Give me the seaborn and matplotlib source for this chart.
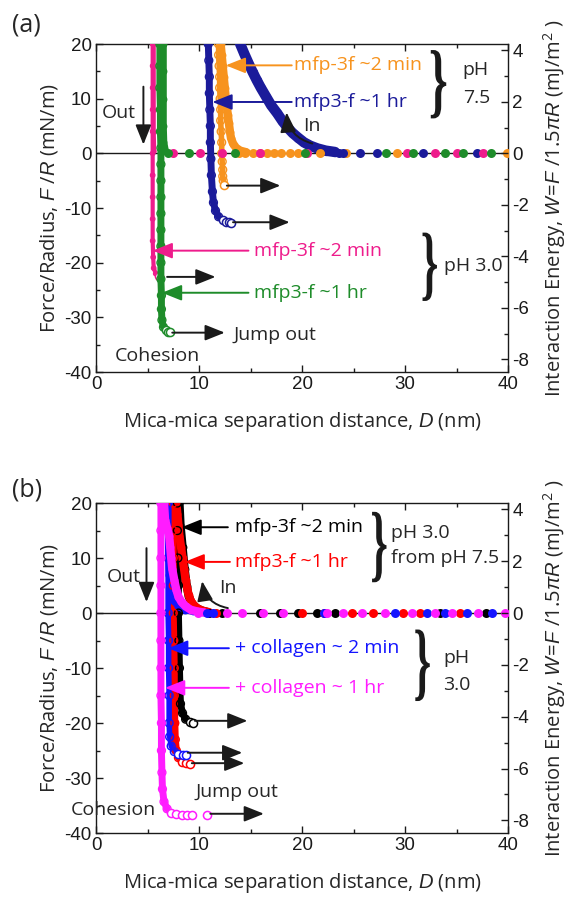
import matplotlib
matplotlib.use("Agg")
import matplotlib.pyplot as plt
import seaborn as sns
import pandas as pd
import numpy as np
from matplotlib.ticker import MultipleLocator
from matplotlib.textpath import TextPath
from matplotlib.patches import PathPatch
from matplotlib.transforms import Affine2D
from matplotlib.font_manager import FontProperties

# ---------------- data: panel (a) ----------------
orange_in_D = [12.1, 12.2, 12.3, 12.4, 12.5, 12.6, 12.7, 12.8, 12.9, 13.0, 13.1, 13.3, 13.6, 14.0, 14.6]
orange_in_F = [20, 18, 16, 14, 12, 10, 8.5, 7, 5.5, 4, 2.8, 1.8, 1.0, 0.5, 0.2]
orange_out_D = [11.9, 11.9, 11.95, 12.0, 12.0, 12.05, 12.1, 12.1, 12.15, 12.2, 12.2, 12.25, 12.3, 12.3, 12.35]
orange_out_F = [20, 18, 16, 14, 12, 10, 8, 6, 4, 2, 0, -1.5, -3, -4.2, -5.0]
orange_jump_D = [12.45]
orange_jump_F = [-5.8]

navy_in_D = [14.0, 14.4, 14.8, 15.2, 15.6, 16.0, 16.5, 17.0, 17.6, 18.1, 18.6, 19.1, 19.6, 20.2, 20.8, 21.5, 22.3, 23.2]
navy_in_F = [20, 18.2, 16.5, 14.9, 13.4, 12.0, 10.4, 8.8, 7.3, 5.9, 4.7, 3.7, 2.9, 2.0, 1.4, 0.9, 0.5, 0.25]
navy_out_D = [10.9, 10.95, 11.0, 11.0, 11.05, 11.1, 11.1, 11.15, 11.2, 11.3, 11.4, 11.6, 11.9]
navy_out_F = [20, 17, 14, 11, 8, 5, 2, -1, -4, -7, -9, -10.5, -11.6]
navy_jump_D = [12.3, 12.6, 12.9, 13.1]
navy_jump_F = [-12.2, -12.5, -12.6, -12.7]

pink_in_D = [5.6, 5.6, 5.6, 5.6, 5.6, 5.65]
pink_in_F = [20, 16, 12, 8, 4, 0.5]
pink_out_D = [5.5, 5.5, 5.5, 5.5, 5.5, 5.5, 5.5, 5.5, 5.5, 5.5, 5.55, 5.6, 5.8]
pink_out_F = [20, 16, 12, 8, 4, 0, -4, -8, -12, -16, -19, -21, -22]
pink_jump_D = [6.1]
pink_jump_F = [-22.4]

green_in_D = [6.5, 6.5, 6.5, 6.5, 6.55, 6.7]
green_in_F = [20, 15, 10, 5, 2, 0.5]
green_out_D = [6.2, 6.2, 6.2, 6.25, 6.25, 6.3, 6.3, 6.3, 6.3, 6.3, 6.3, 6.3, 6.3, 6.3, 6.35, 6.35, 6.4, 6.55]
green_out_F = [20, 16, 12, 8, 4, 1, -2, -5, -8, -11, -14, -17, -20, -23, -26, -28.5, -30.5, -31.8]
green_jump_D = [6.8, 7.0, 7.2]
green_jump_F = [-32.4, -32.6, -32.7]

orange_flat_D = [13.9, 14.5, 15.2, 15.9, 16.6, 17.3, 18.0, 18.8, 19.6, 21.7, 24.3, 29.2, 39.9]
navy_flat_D = [23.6, 24.0, 25.6, 27.3, 31.7, 37.0]
pink_flat_D = [7.5, 10.1, 12.2, 15.9, 20.5, 30.2, 32.9, 35.0, 37.6]
green_flat_D = [7.0, 9.0, 13.5, 20.3, 28.2, 30.8, 33.9, 35.6, 38.3]

# ---------------- data: panel (b) ----------------
black_in_D = [8.1, 8.2, 8.4, 8.6, 8.8, 9.0, 9.3, 9.7, 10.2, 10.8]
black_in_F = [20, 16, 12, 8, 5, 3, 1.8, 1.0, 0.5, 0.2]
black_out_D = [7.9, 7.9, 7.95, 8.0, 8.0, 8.05, 8.1, 8.15, 8.2, 8.4, 8.7]
black_out_F = [20, 15, 10, 5, 0, -5, -10, -14, -16.5, -18.2, -19.3]
black_jump_D = [9.1, 9.4]
black_jump_F = [-19.8, -20.0]

red_in_D = [7.8, 7.9, 8.0, 8.1, 8.25, 8.4, 8.55, 8.7, 8.85, 9.0, 9.2, 9.5, 9.9, 10.4, 11.0]
red_in_F = [20, 18, 16, 14, 12, 10, 8, 6, 4.5, 3.2, 2.2, 1.4, 0.8, 0.4, 0.15]
red_out_D = [7.5, 7.5, 7.5, 7.5, 7.5, 7.55, 7.6, 7.6, 7.65, 7.7, 7.8, 8.0]
red_out_F = [20, 15, 10, 5, 0, -5, -10, -15, -20, -23, -25, -26.3]
red_jump_D = [8.3, 8.7, 9.1]
red_jump_F = [-27.0, -27.3, -27.4]

blue_in_D = [7.0, 7.0, 7.05, 7.1, 7.2, 7.35, 7.6, 8.0, 8.6, 9.4, 10.4]
blue_in_F = [20, 15, 10, 7, 5, 3.5, 2.2, 1.2, 0.6, 0.3, 0.1]
blue_out_D = [7.0, 7.0, 7.0, 7.05, 7.05, 7.1, 7.1, 7.15, 7.3, 7.6]
blue_out_F = [20, 10, 0, -5, -10, -15, -20, -22.5, -24.2, -25.2]
blue_jump_D = [8.0, 8.4, 8.7]
blue_jump_F = [-25.6, -25.8, -25.8]

magenta_in_D = [6.6, 6.7, 6.9, 7.1, 7.2, 7.3, 7.4, 7.6, 7.8, 8.0, 8.3, 8.7, 9.2, 9.8, 10.5]
magenta_in_F = [20, 17, 15.5, 14, 12, 10, 8, 6, 4.2, 3, 2, 1.2, 0.6, 0.3, 0.1]
magenta_out_D = [6.3, 6.3, 6.3, 6.3, 6.3, 6.3, 6.3, 6.3, 6.35, 6.35, 6.4, 6.45, 6.6, 6.9]
magenta_out_F = [20, 15, 10, 5, 0, -5, -10, -15, -20, -25, -29, -32, -34.3, -35.6]
magenta_jump_D = [7.3, 7.8, 8.3, 8.8, 9.3, 10.8]
magenta_jump_F = [-36.3, -36.6, -36.7, -36.7, -36.7, -36.7]

black_flat_D = [11.0, 12.2, 15.9, 17.9, 19.6, 21.5, 23.2, 33.4, 37.9]
red_flat_D = [11.6, 20.0, 22.1, 24.9, 26.9, 29.8, 31.5, 35.3]
blue_flat_D = [10.8, 11.4, 22.1, 29.0, 32.1, 33.9, 36.0, 38.4]
magenta_flat_D = [9.9, 12.7, 14.2, 16.2, 18.2, 22.4, 24.0, 25.8, 28.1, 30.7, 32.9, 34.6, 37.1, 39.7]

x_ticks = [0, 10, 20, 30, 40]
y_ticks = [-40, -30, -20, -10, 0, 10, 20]
w_ticks = [-8, -6, -4, -2, 0, 2, 4]

ORANGE = "#F7931E"
NAVY = "#1B1B9A"
PINK = "#EE1C8C"
GREEN = "#1E8C2A"
BLACK = "#000000"
RED = "#FF0000"
BLUE = "#1414FF"
MAGENTA = "#FF1CFF"

# ---------------- style ----------------
sns.set_theme(style="white")
plt.rcParams["font.family"] = ["Open Sans", "DejaVu Sans"]
plt.rcParams["axes.unicode_minus"] = False
plt.rcParams["mathtext.fontset"] = "custom"
plt.rcParams["mathtext.rm"] = "Open Sans"
plt.rcParams["mathtext.it"] = "Liberation Sans:italic"

fig = plt.figure(figsize=(5.76, 9.10), dpi=100)
axA = fig.add_axes([0.1667, 0.5912, 0.7153, 0.3604])
axB = fig.add_axes([0.1667, 0.0846, 0.7153, 0.3626])

TXT = 14
LAB = 14.5


def curve(ax, D, F, color, lw=5.0, ms=32, filled=True, z=3):
    df = pd.DataFrame({"D": D, "F": F})
    sns.lineplot(data=df, x="D", y="F", sort=False, estimator=None, color=color,
                 lw=lw, ax=ax, zorder=z, legend=False)
    if filled:
        sns.scatterplot(data=df, x="D", y="F", color=color, s=ms, linewidth=0,
                        ax=ax, zorder=z, legend=False)
    else:
        sns.scatterplot(data=df, x="D", y="F", facecolor="none", edgecolor=color,
                        s=ms, linewidth=1.0, ax=ax, zorder=z + 0.1, legend=False)


def jump(ax, D, F, color, z=3):
    df = pd.DataFrame({"D": D, "F": F})
    sns.scatterplot(data=df, x="D", y="F", facecolor="white", edgecolor=color,
                    s=34, linewidth=1.1, ax=ax, zorder=z + 0.2, legend=False)


def flat(ax, D, color):
    df = pd.DataFrame({"D": D, "F": [0.0] * len(D)})
    sns.scatterplot(data=df, x="D", y="F", color=color, s=42, linewidth=0,
                    ax=ax, zorder=5, legend=False)


def arrow(ax, x0, y0, x1, y1, color="k", rad=0.0, lw=1.4):
    ax.annotate("", xy=(x1, y1), xytext=(x0, y0),
                arrowprops=dict(arrowstyle="-|>,head_length=0.8,head_width=0.32",
                                color=color, lw=lw, mutation_scale=15,
                                shrinkA=0, shrinkB=0,
                                connectionstyle=f"arc3,rad={rad}"),
                zorder=8)


BRACE_PATH = TextPath((0, 0), "}", size=1,
                      prop=FontProperties(family="Liberation Serif", weight="bold"))


def brace(ax, x0, x1, ytop, ybot):
    ext = BRACE_PATH.get_extents()
    tr = (Affine2D().translate(-ext.x0, -ext.y0)
          .scale((x1 - x0) / ext.width, (ytop - ybot) / ext.height)
          .translate(x0, ybot))
    p = tr.transform_path(BRACE_PATH)
    ax.add_patch(PathPatch(p, facecolor="k", edgecolor="none", zorder=8,
                           transform=ax.transData))


def setup(ax):
    ax.set_xlim(0, 40)
    ax.set_ylim(-40, 20)
    ax.set_xticks(x_ticks)
    ax.set_yticks(y_ticks)
    ax.xaxis.set_minor_locator(MultipleLocator(5))
    ax.yaxis.set_minor_locator(MultipleLocator(5))
    ax.tick_params(which="both", direction="in", top=True, right=False,
                   bottom=True, left=True, labelsize=13.5, colors="k",
                   labelfontfamily="Liberation Sans", pad=3)
    ax.tick_params(which="major", length=5, width=1)
    ax.tick_params(which="minor", length=3, width=1)
    for s in ax.spines.values():
        s.set_color("k")
        s.set_linewidth(1.0)
    ax.axhline(0, color="k", lw=1.0, zorder=2)
    ax.set_xlabel(r"Mica-mica separation distance, $D$ (nm)", fontsize=LAB, labelpad=12)
    ax.set_ylabel(r"Force/Radius, $F$ /$R$ (mN/m)", fontsize=LAB, labelpad=3)
    ax2 = ax.twinx()
    ax2.set_ylim(-40 / (1.5 * np.pi), 20 / (1.5 * np.pi))
    ax2.set_yticks(w_ticks)
    ax2.yaxis.set_minor_locator(MultipleLocator(1))
    ax2.tick_params(which="both", direction="in", right=True, labelsize=13.5,
                    labelfontfamily="Liberation Sans", colors="k", pad=3)
    ax2.tick_params(which="major", length=5, width=1)
    ax2.tick_params(which="minor", length=3, width=1)
    ax2.grid(False)
    for s in ax2.spines.values():
        s.set_visible(False)
    ax2.set_ylabel(r"Interaction Energy, $W\!=\!F\ /1.5\pi R$ (mJ/m$^2$ )",
                   fontsize=LAB, labelpad=9)
    ax.grid(False)


# ---------------- panel (a) ----------------
setup(axA)
curve(axA, orange_in_D, orange_in_F, ORANGE, lw=6)
curve(axA, orange_out_D, orange_out_F, ORANGE, lw=4, filled=False)
jump(axA, orange_jump_D, orange_jump_F, ORANGE)
curve(axA, navy_in_D, navy_in_F, NAVY, lw=7.5, ms=45)
curve(axA, navy_out_D, navy_out_F, NAVY, lw=5, filled=False)
jump(axA, navy_jump_D, navy_jump_F, NAVY)
curve(axA, pink_in_D, pink_in_F, PINK, lw=3, ms=10)
curve(axA, pink_out_D, pink_out_F, PINK, lw=3, ms=10, filled=False)
jump(axA, pink_jump_D, pink_jump_F, PINK)
curve(axA, green_in_D, green_in_F, GREEN, lw=5.5, z=4)
curve(axA, green_out_D, green_out_F, GREEN, lw=5, filled=False, z=4)
jump(axA, green_jump_D, green_jump_F, GREEN, z=4)
flat(axA, orange_flat_D, ORANGE)
flat(axA, navy_flat_D, NAVY)
flat(axA, pink_flat_D, PINK)
flat(axA, green_flat_D, GREEN)

axA.text(0.6, 7.3, "Out", fontsize=TXT, va="center", ha="left")
arrow(axA, 4.6, 12.2, 4.6, 1.6)
axA.text(20.1, 5.0, "In", fontsize=TXT, va="center", ha="left")
arrow(axA, 21.0, 1.8, 18.5, 7.5, rad=-0.35)
axA.text(19.2, 16.1, "mfp-3f ~2 min", color=ORANGE, fontsize=TXT, va="center")
arrow(axA, 19.0, 16.1, 12.6, 16.1, color=ORANGE)
axA.text(19.2, 9.4, "mfp3-f ~1 hr", color=NAVY, fontsize=TXT, va="center")
arrow(axA, 19.0, 9.4, 11.3, 9.4, color=NAVY)
brace(axA, 32.5, 34.0, 18.9, 6.4)
axA.text(35.6, 15.2, "pH", fontsize=TXT, va="center")
axA.text(35.6, 10.1, "7.5", fontsize=TXT, va="center")
arrow(axA, 12.7, -5.9, 17.9, -5.9)
arrow(axA, 13.3, -12.6, 18.8, -12.6)
axA.text(15.3, -17.8, "mfp-3f ~2 min", color=PINK, fontsize=TXT, va="center")
arrow(axA, 14.8, -17.8, 5.5, -17.8, color=PINK)
arrow(axA, 6.9, -22.6, 11.6, -22.6)
axA.text(15.3, -25.5, "mfp3-f ~1 hr", color=GREEN, fontsize=TXT, va="center")
arrow(axA, 14.8, -25.5, 6.4, -25.5, color=GREEN)
brace(axA, 31.7, 33.1, -14.5, -27.0)
axA.text(33.8, -20.6, "pH 3.0", fontsize=TXT, va="center")
arrow(axA, 7.4, -32.8, 12.5, -32.8)
axA.text(13.3, -33.3, "Jump out", fontsize=TXT, va="center")
axA.text(1.8, -37.0, "Cohesion", fontsize=TXT, va="center")

# ---------------- panel (b) ----------------
setup(axB)
curve(axB, black_in_D, black_in_F, BLACK, lw=6)
curve(axB, black_out_D, black_out_F, BLACK, lw=5, filled=False)
jump(axB, black_jump_D, black_jump_F, BLACK)
curve(axB, red_in_D, red_in_F, RED, lw=6)
curve(axB, red_out_D, red_out_F, RED, lw=5, filled=False)
jump(axB, red_jump_D, red_jump_F, RED)
curve(axB, blue_in_D, blue_in_F, BLUE, lw=5)
curve(axB, blue_out_D, blue_out_F, BLUE, lw=4, filled=False)
jump(axB, blue_jump_D, blue_jump_F, BLUE)
curve(axB, magenta_in_D, magenta_in_F, MAGENTA, lw=6, z=4)
curve(axB, magenta_out_D, magenta_out_F, MAGENTA, lw=5, filled=False, z=4)
jump(axB, magenta_jump_D, magenta_jump_F, MAGENTA, z=4)
flat(axB, black_flat_D, BLACK)
flat(axB, red_flat_D, RED)
flat(axB, blue_flat_D, BLUE)
flat(axB, magenta_flat_D, MAGENTA)

axB.text(1.0, 6.5, "Out", fontsize=TXT, va="center", ha="left")
arrow(axB, 4.9, 11.8, 4.9, 2.0)
axB.text(12.0, 4.5, "In", fontsize=TXT, va="center", ha="left")
arrow(axB, 12.8, 0.9, 10.3, 5.8, rad=-0.35)
axB.text(13.5, 15.6, "mfp-3f ~2 min", color=BLACK, fontsize=TXT, va="center")
arrow(axB, 12.8, 15.6, 8.3, 15.6, color=BLACK)
axB.text(13.5, 9.3, "mfp3-f ~1 hr", color=RED, fontsize=TXT, va="center")
arrow(axB, 13.0, 9.3, 8.6, 9.3, color=RED)
brace(axB, 26.8, 28.2, 18.4, 5.6)
axB.text(28.6, 14.5, "pH 3.0", fontsize=TXT, va="center")
axB.text(28.6, 10.0, "from pH 7.5", fontsize=TXT, va="center")
axB.text(13.5, -6.4, "+ collagen ~ 2 min", color=BLUE, fontsize=TXT, va="center")
arrow(axB, 12.9, -6.4, 7.0, -6.4, color=BLUE)
axB.text(13.5, -13.6, "+ collagen ~ 1 hr", color=MAGENTA, fontsize=TXT, va="center")
arrow(axB, 12.9, -13.6, 6.7, -13.6, color=MAGENTA)
brace(axB, 31.0, 32.4, -3.0, -16.0)
axB.text(33.7, -8.2, "pH", fontsize=TXT, va="center")
axB.text(33.7, -13.0, "3.0", fontsize=TXT, va="center")
arrow(axB, 9.6, -19.6, 14.7, -19.6)
arrow(axB, 8.9, -25.4, 14.2, -25.4)
arrow(axB, 9.3, -27.3, 14.4, -27.3)
arrow(axB, 11.1, -36.5, 16.3, -36.5)
axB.text(9.7, -32.5, "Jump out", fontsize=TXT, va="center")
axB.text(5.8, -35.8, "Cohesion", fontsize=TXT, va="center", ha="right")

fig.text(12 / 576, 1 - 25 / 910, "(a)", fontsize=18, va="center", ha="left")
fig.text(12 / 576, 1 - 490 / 910, "(b)", fontsize=18, va="center", ha="left")

fig.savefig("out.png", dpi=100)
